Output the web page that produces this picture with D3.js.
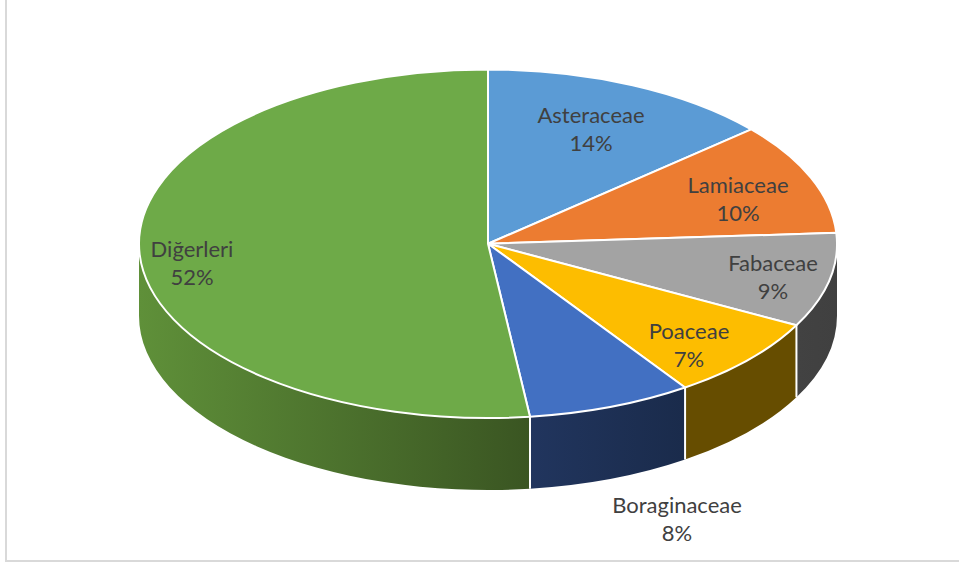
<!DOCTYPE html>
<html lang="tr">
<head>
<meta charset="utf-8">
<script src="https://cdn.jsdelivr.net/npm/d3@7/dist/d3.min.js"></script>
<style>
html,body{margin:0;padding:0;background:#fff;overflow:hidden}
svg{display:block}
text{font-family:Lato,"Open Sans",sans-serif;font-size:22px;fill:#404040;text-anchor:middle}
</style>
</head>
<body>
<svg id="chart" width="959" height="565"></svg>
<script>
const categories = ["Asteraceae","Lamiaceae","Fabaceae","Poaceae","Boraginaceae","Diğerleri"];
const shares = [13.6,10.4,8.75,7.7,7.63,51.92];
const percentLabels = ["14%","10%","9%","7%","8%","52%"];
const topColors = ["#5b9bd5","#ec7c31","#a3a3a3","#fdbd00","#4270c2","#6eaa48"];
const wallStart = ["#2f5f8b","#9a4f1c","#424242","#664d00","#21355e","#5f9039"];
const wallEnd   = ["#2f5f8b","#9a4f1c","#404040","#664d00","#1a2b4b","#3a5522"];
const labelOffsets = [[103,-114],[250,-44],[285,34],[201,102],[189,276],[-296,20]];

const svg = d3.select("#chart");
const defs = svg.append("defs");
const W = 959, H = 565;
svg.append("rect").attr("x",6).attr("y",-10).attr("width",W+10).attr("height",571)
  .attr("fill","#fff").attr("stroke","#d9d9d9").attr("stroke-width",2);

const x = d3.scaleLinear().domain([-1,1]).range([139,837]);
const y = d3.scaleLinear().domain([-1,1]).range([418,69.5]);
const depth = 72;
const rx = (x(1)-x(-1))/2, ry = (y(-1)-y(1))/2;
const cx = x(0), cy = y(0);

const pie = d3.pie().sort(null).value(d=>d)(shares);
const px = a => x(Math.sin(a));
const py = a => y(Math.cos(a));

// side walls: only the front half of the disc is visible
const wallGroup = svg.append("g");
pie.forEach((s,i)=>{
  const a0 = Math.max(s.startAngle, Math.PI/2);
  const a1 = Math.min(s.endAngle, 3*Math.PI/2);
  if (a1 <= a0) return;
  const id = "wall"+i;
  const g = defs.append("linearGradient").attr("id",id).attr("gradientUnits","userSpaceOnUse")
    .attr("x1",Math.min(px(a0),px(a1))).attr("x2",Math.max(px(a0),px(a1))).attr("y1",0).attr("y2",0);
  g.append("stop").attr("offset",0).attr("stop-color",wallStart[i]);
  g.append("stop").attr("offset",1).attr("stop-color",wallEnd[i]);
  const large = (a1-a0) > Math.PI ? 1 : 0;
  const d = `M${px(a0)},${py(a0)}A${rx},${ry} 0 ${large} 1 ${px(a1)},${py(a1)}`
          + `L${px(a1)},${py(a1)+depth}A${rx},${ry} 0 ${large} 0 ${px(a0)},${py(a0)+depth}Z`;
  wallGroup.append("path").attr("d",d).attr("fill",`url(#${id})`);
});
// white seams between visible walls
pie.forEach(s=>{
  const a = s.endAngle;
  if (a > Math.PI/2 && a < 3*Math.PI/2) {
    wallGroup.append("line").attr("x1",px(a)).attr("x2",px(a)).attr("y1",py(a)).attr("y2",py(a)+depth)
      .attr("stroke","#fff").attr("stroke-width",2);
  }
});

// top faces
svg.append("g").selectAll("path").data(pie).join("path")
  .attr("d",s=>{
    const large = (s.endAngle-s.startAngle) > Math.PI ? 1 : 0;
    return `M${cx},${cy}L${px(s.startAngle)},${py(s.startAngle)}A${rx},${ry} 0 ${large} 1 ${px(s.endAngle)},${py(s.endAngle)}Z`;
  })
  .attr("fill",(s,i)=>topColors[i])
  .attr("stroke","#fff").attr("stroke-width",2).attr("stroke-linejoin","round");

// labels
const labels = svg.append("g").selectAll("text").data(categories).join("text")
  .attr("x",(d,i)=>cx+labelOffsets[i][0])
  .attr("y",(d,i)=>cy+labelOffsets[i][1]);
labels.append("tspan").attr("x",(d,i)=>cx+labelOffsets[i][0]).attr("dy",-7).text(d=>d);
labels.append("tspan").attr("x",(d,i)=>cx+labelOffsets[i][0]).attr("dy",28.5).text((d,i)=>percentLabels[i]);
</script>
</body>
</html>
